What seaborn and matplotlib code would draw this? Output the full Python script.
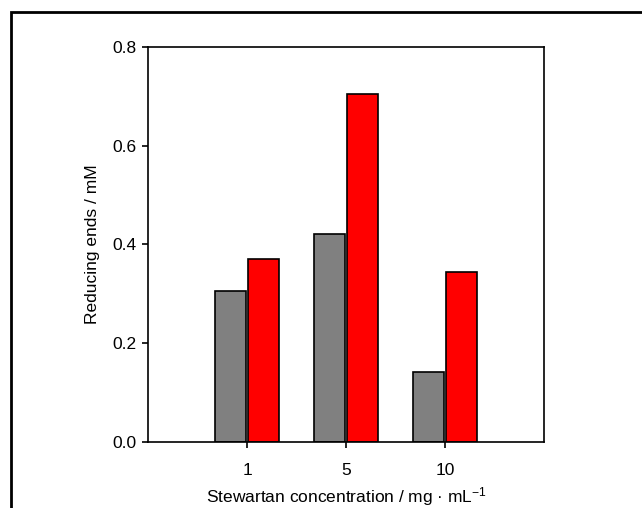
import matplotlib
matplotlib.use("Agg")
import matplotlib.pyplot as plt
from matplotlib.patches import Rectangle
import numpy as np
import pandas as pd
import seaborn as sns

# Data
concentrations = ["1", "5", "10"]
series_a = [0.305, 0.420, 0.142]   # grey bars
series_b = [0.370, 0.705, 0.343]   # red bars
series_names = ["A", "B"]
bar_colors = ["#808080", "#ff0000"]
y_ticks = [0.0, 0.2, 0.4, 0.6, 0.8]

df = pd.DataFrame({
    "conc": concentrations * 2,
    "value": series_a + series_b,
    "series": [series_names[0]] * 3 + [series_names[1]] * 3,
})

sns.set_theme(style="white")
plt.rcParams["font.family"] = ["Liberation Sans", "DejaVu Sans"]
plt.rcParams["mathtext.fontset"] = "custom"
plt.rcParams["mathtext.rm"] = "Liberation Sans"
plt.rcParams["mathtext.it"] = "Liberation Sans:italic"

W, H = 642, 508
fig = plt.figure(figsize=(W / 100, H / 100), dpi=100)
fig.patch.set_facecolor("white")
ax = fig.add_axes([148 / W, 1 - 441.7 / H, (544 - 148) / W, (441.7 - 47) / H])

sns.barplot(data=df, x="conc", y="value", hue="series", order=concentrations,
            hue_order=series_names, palette=bar_colors, saturation=1,
            width=0.67, gap=0.06, edgecolor="black", linewidth=1.2,
            legend=False, ax=ax)

ax.set_xlim(-1, 3)
ax.set_ylim(0, 0.8)
ax.set_yticks(y_ticks)
ax.set_yticklabels([f"{v:.1f}" for v in y_ticks])

for s in ax.spines.values():
    s.set_visible(True)
    s.set_color("black")
    s.set_linewidth(1.2)

ax.tick_params(axis="both", which="major", direction="out", length=4, width=1.2,
               color="black", labelsize=12.5, labelcolor="black")
ax.tick_params(axis="x", pad=11)
ax.tick_params(axis="y", pad=4)
ax.tick_params(bottom=True, left=True)

ax.set_xlabel("Stewartan concentration / mg · mL$^{\\mathregular{-1}}$", fontsize=12.5,
              color="black", labelpad=5.5)
ax.set_ylabel("Reducing ends / mM", fontsize=12.5, color="black", labelpad=9)

# Outer frame around the figure
frame = Rectangle((11 / W, -0.2), 1.5, 1 - 12 / H + 0.2, transform=fig.transFigure,
                  fill=False, edgecolor="black", linewidth=2.0)
fig.add_artist(frame)

fig.savefig("out.png", dpi=100)
